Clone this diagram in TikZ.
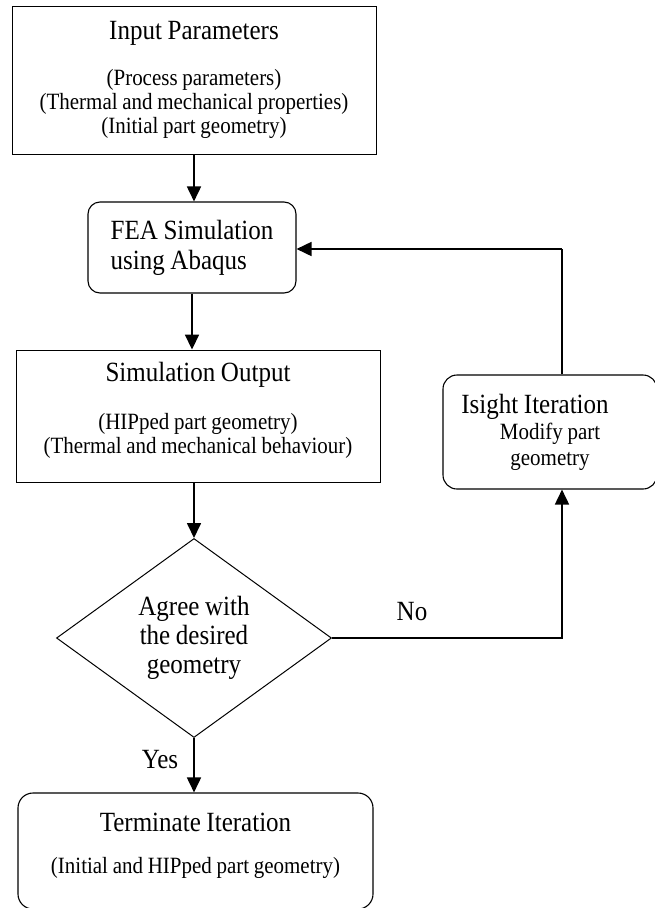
\documentclass[tikz,border=0pt]{standalone}
\usepackage{fontspec}
\setmainfont{Liberation Serif}[FakeStretch=0.9, WordSpace=0.9]
\usetikzlibrary{shapes.geometric,arrows.meta}
\newcommand{\boxtitle}[1]{{\fontsize{27.8}{24}\selectfont #1}}

\begin{document}
\begin{tikzpicture}[x=1pt,y=-1pt]
\tikzset{
	b/.style={draw=black, line width=0.9pt, align=center, inner sep=0pt, font=\fontsize{23.3}{24}\selectfont},
	r/.style={b, line width=1.1pt, rounded corners=12pt},
	d/.style={diamond, draw=black, line width=1pt, inner sep=0pt, align=center, font=\fontsize{27.8}{29}\selectfont},
	arr/.style={-{Triangle[length=15pt,width=14pt]}, line width=1.7pt},
	t/.style={font=\fontsize{27.8}{29}\selectfont}
}
\useasboundingbox (0,0) rectangle (655,908);

% input
\node[b, minimum width=364pt, minimum height=148pt] (inp) at (194,80) {\boxtitle{Input Parameters}\\[22pt](Process parameters)\\(Thermal and mechanical properties)\\(Initial part geometry)};

% FEA
\node[r, minimum width=208pt, minimum height=91pt, align=left, font=\fontsize{27.8}{30}\selectfont] (fea) at (192,247.5) {FEA Simulation\\using Abaqus};

% output
\node[b, minimum width=364pt, minimum height=132pt, text depth=16pt] (sim) at (198,416) {\boxtitle{Simulation Output}\\[24pt](HIPped part geometry)\\(Thermal and mechanical behaviour)};

% decision
\node[d, minimum width=275pt, minimum height=199pt] (dec) at (194,638) {Agree with\\the desired\\geometry};

% isight
\node[r, rounded corners=14pt, minimum width=214pt, minimum height=114pt, font=\fontsize{23.3}{26}\selectfont] (isi) at (550,432) {\boxtitle{Isight Iteration}\hspace*{30pt}\\Modify part\\geometry};

% terminate
\node[r, rounded corners=15pt, minimum width=355pt, minimum height=116pt, text depth=16pt] (term) at (195.5,851) {\boxtitle{Terminate Iteration}\\[18pt](Initial and HIPped part geometry)};

\coordinate (turn) at (562,249);

% arrows
\draw[arr] (inp.south) -- (inp.south |- fea.north);
\draw[arr] (fea.south) -- (fea.south |- sim.north);
\draw[arr] (dec.north |- sim.south) -- (dec.north);
\draw[arr] (dec.south) -- (dec.south |- term.north);
\draw[arr] (dec.east) -| (turn |- isi.south);
\draw[line width=1.1pt] (turn |- isi.north) -- (turn);
\draw[arr] (turn) -- (turn -| fea.east);

% labels
\node[t] (no) at (412,612) {No};
\node[t] (yes) at (160,760) {Yes};

\end{tikzpicture}
\end{document}
